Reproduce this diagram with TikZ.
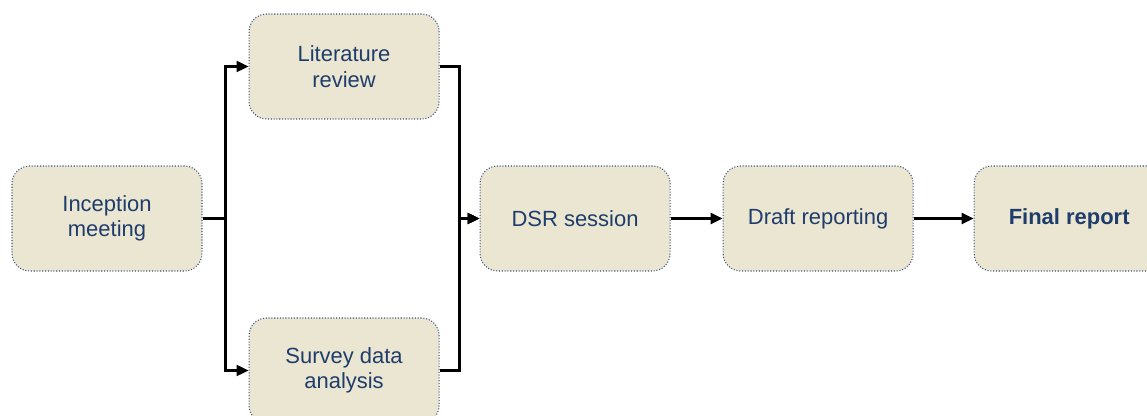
\documentclass[tikz,border=0pt]{standalone}
\usepackage{fontspec}
\setmainfont{Liberation Sans}
\usepackage{tikz}
\usetikzlibrary{arrows.meta, positioning}
\definecolor{stepfill}{RGB}{235, 230, 210}
\definecolor{stepedge}{RGB}{55, 80, 125}
\definecolor{steptext}{RGB}{31, 61, 107}

\begin{document}
\begin{tikzpicture}[
  every node/.style = {font=\fontsize{12.5}{14.5}\selectfont},
  stepbox/.style  = {draw=stepedge, densely dotted, line width=0.6pt,
                     rounded corners=10pt, fill=stepfill, text=steptext,
                     minimum width=3.8cm, minimum height=2.1cm,
                     align=center, inner sep=2pt},
  link/.style     = {-{Triangle[length=0.24cm, width=0.22cm]}, line width=1.3pt}
]
\useasboundingbox (0,0) rectangle (22.94,-8.32);

% Nodes
\node[stepbox] (inception) at (2.14,-4.37) {Inception\\meeting};
\node[stepbox, right=0.92cm of inception, yshift=3.04cm] (lit) {Literature\\review};
\node[stepbox, right=0.92cm of inception, yshift=-3.04cm] (survey) {Survey data\\analysis};
\node[stepbox, right=5.54cm of inception] (dsr) {DSR session};
\node[stepbox, right=1.04cm of dsr] (draft) {Draft reporting};
\node[stepbox, right=1.2cm of draft, font=\fontsize{12.5}{14.5}\selectfont\bfseries] (final) {Final report};

% Arrows
\draw[link] (inception.east) -- ++(0.46,0) |- (lit.west);
\draw[link] (inception.east) -- ++(0.46,0) |- (survey.west);
\draw[link] (lit.east) -- ++(0.4,0) |- (dsr.west);
\draw[link] (survey.east) -- ++(0.4,0) |- (dsr.west);
\draw[link] (dsr) -- (draft);
\draw[link] (draft) -- (final);

\end{tikzpicture}
\end{document}
